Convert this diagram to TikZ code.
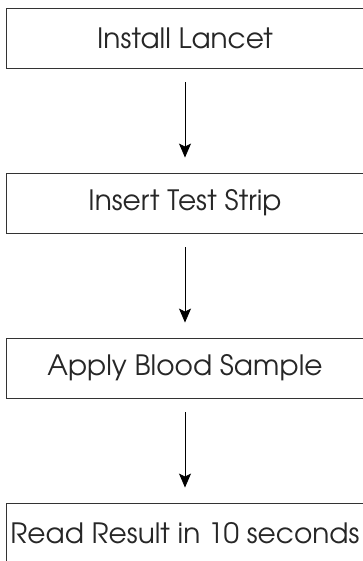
\documentclass[tikz,border=0pt]{standalone}
\usepackage{fontspec}
\setmainfont{texgyreadventor-regular.otf}
\usetikzlibrary{arrows.meta}
\tikzset{
  stepbox/.style={draw=black!80, line width=0.9pt, rectangle, minimum width=358pt, minimum height=60pt, inner sep=0pt, font=\fontsize{28}{34}\selectfont, text=black!85},
  flowarrow/.style={draw=black, line width=0.8pt, -{Stealth[length=14pt,width=12pt,inset=3pt]}, shorten <=14pt, shorten >=15pt}
}
\begin{document}
\begin{tikzpicture}[x=1pt,y=-1pt]
\useasboundingbox (0,0) rectangle (363,561);
\node[stepbox] (b1) at (185,38) {Install Lancet};
\node[stepbox] (b2) at (185,203) {Insert Test Strip};
\node[stepbox] (b3) at (185,368) {Apply Blood Sample};
\node[stepbox] (b4) at (185,533) {Read Result in 10 seconds};
\draw[flowarrow] (b1) -- (b2);
\draw[flowarrow] (b2) -- (b3);
\draw[flowarrow] (b3) -- (b4);
\end{tikzpicture}
\end{document}
